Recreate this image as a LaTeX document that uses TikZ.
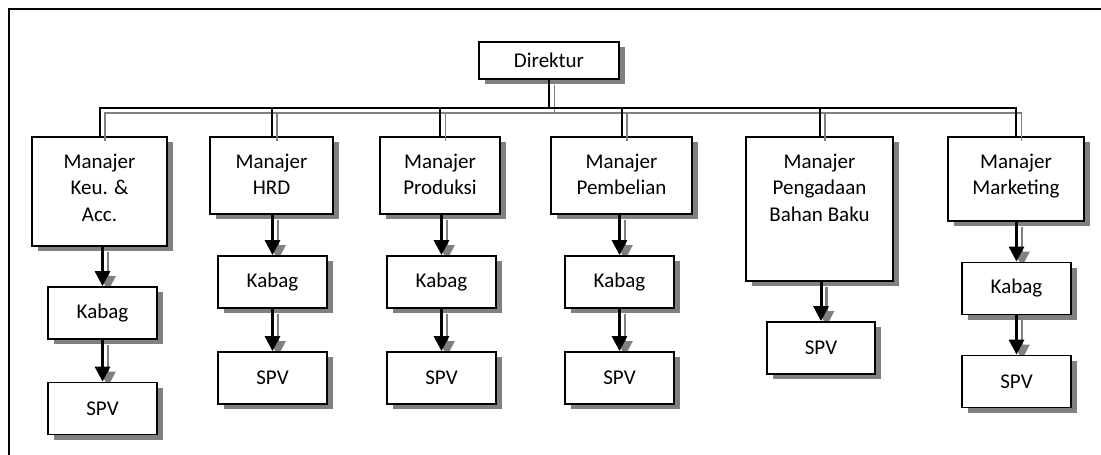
\documentclass[tikz,border=0pt]{standalone}
\usepackage{fontspec}
\setmainfont{Carlito}
\usetikzlibrary{arrows.meta,shadows,backgrounds}
\definecolor{shadowgray}{RGB}{128,128,128}
\begin{document}
\begin{tikzpicture}[x=1pt,y=-1pt,
  box/.style={draw=black, line width=1.8pt, fill=white, inner sep=0pt,
    font=\fontsize{21}{26.5}\selectfont,
    general shadow={fill=shadowgray, shadow xshift=5.5pt, shadow yshift=-5pt}},
  smallbox/.style={box, minimum width=109pt, minimum height=52pt},
  mgrtext/.style={anchor=north, inner sep=0pt, align=center,
    font=\fontsize{21}{26.5}\selectfont},
  link/.style={draw=black, line width=2pt},
  linkshadow/.style={draw=shadowgray, line width=1.6pt,
    transform canvas={xshift=5.5pt, yshift=-5pt}},
  arrowlink/.style={draw=black, line width=3pt,
    -{Triangle[length=15pt, width=15pt]}},
  arrowshadow/.style={draw=shadowgray, line width=2.5pt,
    -{Triangle[length=15pt, width=15pt]},
    transform canvas={xshift=5.5pt, yshift=-5pt}}]

\useasboundingbox (0,0) rectangle (1101,455);

% outer frame (top and left edges)
\draw[line width=2pt] (9,455) -- (9,9) -- (1101,9);

% top level
\node[box, minimum width=140pt, minimum height=37pt] (dir) at (549,60.5) {Direktur};

% managers
\node[box, minimum width=135pt, minimum height=109pt] (keu)  at (99.5,191.5) {};
\node[box, minimum width=123pt, minimum height=77pt]  (hrd)  at (271.5,175.5) {};
\node[box, minimum width=120pt, minimum height=77pt]  (prod) at (440,175.5) {};
\node[box, minimum width=141pt, minimum height=77pt]  (pemb) at (621.5,175.5) {};
\node[box, minimum width=147pt, minimum height=144pt] (peng) at (819.5,209) {};
\node[box, minimum width=136pt, minimum height=84pt]  (mkt)  at (1016,179) {};

\node[mgrtext] (keut)  at ([yshift=-13.5pt]keu.north)  {\strut Manajer\\Keu. \&\\Acc.};
\node[mgrtext] (hrdt)  at ([yshift=-13.5pt]hrd.north)  {\strut Manajer\\HRD};
\node[mgrtext] (prodt) at ([yshift=-13.5pt]prod.north) {\strut Manajer\\Produksi};
\node[mgrtext] (pembt) at ([yshift=-13.5pt]pemb.north) {\strut Manajer\\Pembelian};
\node[mgrtext] (pengt) at ([yshift=-13.5pt]peng.north) {\strut Manajer\\Pengadaan\\Bahan Baku};
\node[mgrtext] (mktt)  at ([yshift=-13.5pt]mkt.north)  {\strut Manajer\\Marketing};

% section heads and supervisors
\node[smallbox] (kab1) at (102.5,313) {Kabag};
\node[smallbox] (spv1) at (102.5,408.5) {SPV};
\node[smallbox] (kab2) at (272.5,282) {Kabag};
\node[smallbox] (spv2) at (272.5,378) {SPV};
\node[smallbox] (kab3) at (441.5,282) {Kabag};
\node[smallbox] (spv3) at (441.5,378) {SPV};
\node[smallbox] (kab4) at (619.5,282) {Kabag};
\node[smallbox] (spv4) at (619.5,378) {SPV};
\node[smallbox, minimum width=108pt] (spv5) at (821,348) {SPV};
\node[smallbox] (kab6) at (1016.5,288.5) {Kabag};
\node[smallbox] (spv6) at (1016.5,381.5) {SPV};

% bus from the director to every manager
\coordinate (bus) at (0,108);
\foreach \m in {keu,hrd,prod,pemb,peng,mkt}{
  \draw[linkshadow] (dir.south) -- (dir.south |- bus) -| (\m.north);
}
\foreach \m in {keu,hrd,prod,pemb,peng,mkt}{
  \draw[link] (dir.south) -- (dir.south |- bus) -| (\m.north);
}

% downward reporting arrows
\begin{pgfonlayer}{background}
\foreach \a/\b in {keu/kab1,kab1/spv1,hrd/kab2,kab2/spv2,prod/kab3,kab3/spv3,
                   pemb/kab4,kab4/spv4,peng/spv5,mkt/kab6,kab6/spv6}{
  \draw[arrowshadow] (\b.north |- \a.south) -- (\b.north);
}
\end{pgfonlayer}
\foreach \a/\b in {keu/kab1,kab1/spv1,hrd/kab2,kab2/spv2,prod/kab3,kab3/spv3,
                   pemb/kab4,kab4/spv4,peng/spv5,mkt/kab6,kab6/spv6}{
  \draw[arrowlink] (\b.north |- \a.south) -- (\b.north);
}
\end{tikzpicture}
\end{document}
